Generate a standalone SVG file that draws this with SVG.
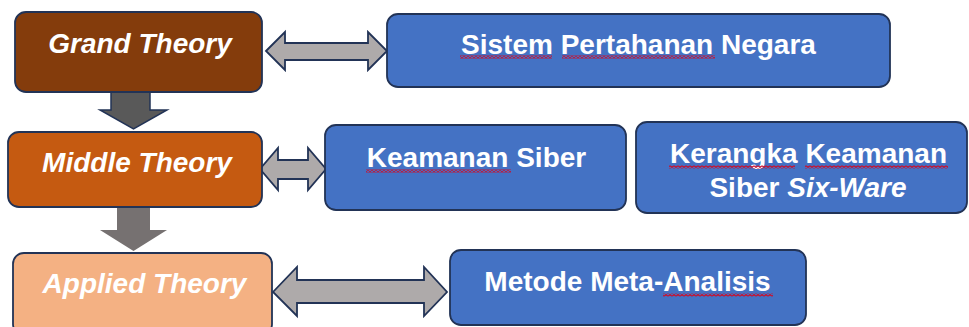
<svg xmlns="http://www.w3.org/2000/svg" width="969" height="327" viewBox="0 0 969 327">
<style>
.box{stroke:#223356;stroke-width:1.8}
.blue{fill:#4472C4}
.t{font-family:"Liberation Sans",Arial,sans-serif;font-size:28px;font-weight:bold;fill:#ffffff;text-anchor:middle}
.it{font-style:italic}
.dbl{fill:#AEAAAA;stroke:#223356;stroke-width:1.8;stroke-linejoin:miter}
.sq{fill:url(#squig)}
</style>
<defs>
<pattern id="squig" patternUnits="userSpaceOnUse" width="4" height="3">
<path d="M0,2.5 L2,0.5 L4,2.5" fill="none" stroke="#C8102E" stroke-width="1.3"/>
</pattern>
</defs>
<rect width="969" height="327" fill="#ffffff"/>
<g id="connectors">
<polygon class="dbl" points="266,51 285,32 285,43 368,43 368,32 387,51 368,70 368,60 285,60 285,70"/>
<polygon class="dbl" points="260,169 278,148 278,160 308,160 308,148 326,169 308,190 308,179 278,179 278,190"/>
<polygon class="dbl" points="273,292 297,267 297,280 424,280 424,267 447,292 424,316 424,303 297,303 297,316"/>
<polygon points="111,92 150,92 150,110 167,110 133.5,129 100,110 111,110" fill="#595959" stroke="#223356" stroke-width="1.5"/>
<polygon points="117,207 150,207 150,230 167,230 133.5,251 100,230 117,230" fill="#767171"/>
</g>
<g id="grand">
<rect class="box" x="15" y="12" width="247" height="80" rx="11" fill="#843C0C"/>
<text class="t it" x="140" y="53">Grand Theory</text>
</g>
<g id="middle">
<rect class="box" x="8" y="132" width="254" height="75" rx="11" fill="#C55A11"/>
<text class="t it" x="137" y="172">Middle Theory</text>
</g>
<g id="applied">
<rect class="box" x="13" y="253" width="259" height="82" rx="11" fill="#F4B183"/>
<text class="t it" x="144.5" y="293">Applied Theory</text>
</g>
<g id="sistem">
<rect class="box blue" x="387" y="14" width="503" height="73" rx="11"/>
<text class="t" x="638.5" y="54">Sistem Pertahanan Negara</text>
<rect class="sq" x="460" y="55.5" width="92" height="3"/>
<rect class="sq" x="562" y="55.5" width="153" height="3"/>
</g>
<g id="keamanan">
<rect class="box blue" x="325" y="125" width="301" height="85" rx="11"/>
<text class="t" x="476.5" y="167">Keamanan Siber</text>
<rect class="sq" x="366" y="169.5" width="145" height="3"/>
</g>
<g id="kerangka">
<rect class="box blue" x="636" y="122" width="331" height="91" rx="11"/>
<text class="t" x="808.5" y="163">Kerangka Keamanan</text>
<text class="t" x="808" y="197">Siber <tspan class="it">Six-Ware</tspan></text>
<rect class="sq" x="669" y="165.5" width="126" height="3"/>
<rect class="sq" x="805" y="165.5" width="143" height="3"/>
</g>
<g id="metode">
<rect class="box blue" x="450" y="250" width="356" height="75" rx="11"/>
<text class="t" x="627.5" y="291">Metode Meta-Analisis</text>
<rect class="sq" x="663" y="293.5" width="110" height="3"/>
</g>
</svg>
